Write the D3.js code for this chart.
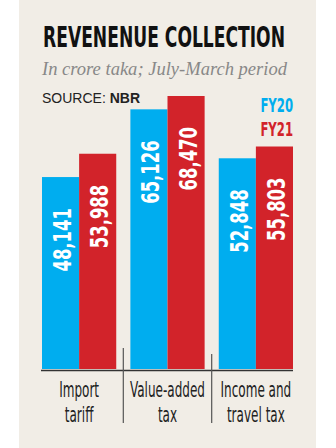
<!DOCTYPE html>
<html><head><meta charset="utf-8">
<script src="https://cdn.jsdelivr.net/npm/d3@7"></script>
<style>html,body{margin:0;padding:0;background:#fff}</style>
</head><body>
<script>
const categories = [["Import","tariff"],["Value-added","tax"],["Income and","travel tax"]];
const seriesNames = ["FY20","FY21"];
const fy20 = [48141, 65126, 52848];
const fy21 = [53988, 68470, 55803];
const colors = ["#00adef", "#d2232a"];

const W = 336, H = 448;
const svg = d3.select("body").append("svg").attr("width", W).attr("height", H);
svg.append("rect").attr("x", 19).attr("y", 0).attr("width", 297).attr("height", H).attr("fill", "#f1ede6");

const cond = "'Liberation Sans Narrow','DejaVu Sans Condensed','DejaVu Sans',sans-serif";

// condense a text so that a sample string in the same style would measure `target` px
function condense(sel, sample, target) {
  const probe = svg.append("text").text(sample);
  ["font-family","font-weight","font-size","font-style"].forEach(a => probe.attr(a, sel.attr(a)));
  const k = target / probe.node().getComputedTextLength();
  probe.remove();
  const L = sel.node().getComputedTextLength();
  sel.attr("textLength", L * k).attr("lengthAdjust", "spacingAndGlyphs");
  return sel;
}

const title = svg.append("text").attr("x", 43).attr("y", 47).text("REVENENUE COLLECTION")
  .attr("font-family", cond).attr("font-weight", "bold").attr("font-size", 29).attr("fill", "#111");
condense(title, "REVENENUE COLLECTION", 242);

const sub = svg.append("text").attr("x", 42).attr("y", 75).text("In crore taka; July-March period")
  .attr("font-family", "'Liberation Serif',serif").attr("font-style", "italic").attr("font-size", 18)
  .attr("fill", "#888");
condense(sub, "In crore taka; July-March period", 245);

const src = svg.append("text").attr("x", 42).attr("y", 102.5)
  .attr("font-family", "'Liberation Sans',Arial,sans-serif").attr("font-size", 14).attr("fill", "#222");
src.append("tspan").text("SOURCE: ");
src.append("tspan").attr("font-weight", "bold").text("NBR");

// legend
seriesNames.forEach((n, i) => {
  const t = svg.append("text").attr("x", 293).attr("y", 111.5 + i * 24).attr("text-anchor", "end")
    .attr("font-family", cond).attr("font-weight", "bold").attr("font-size", 20)
    .attr("fill", colors[i]).text(n);
  condense(t, "FY20", 32.6);
});

const x0 = d3.scaleBand().domain(d3.range(categories.length)).range([42, 293]).paddingInner(0.16).paddingOuter(0);
const x1 = d3.scaleBand().domain(d3.range(seriesNames.length)).range([0, x0.bandwidth()]);
const y = d3.scaleLinear().domain([0, 68470]).range([369, 96]);

const series = [fy20, fy21];
const g = svg.append("g");
categories.forEach((c, ci) => {
  series.forEach((vals, si) => {
    const v = vals[ci];
    const bx = x0(ci) + x1(si);
    g.append("rect").attr("x", bx).attr("y", y(v)).attr("width", x1.bandwidth()).attr("height", y(0) - y(v))
      .attr("fill", colors[si]);
    const cx = bx + x1.bandwidth() / 2 + 1.5;
    const t = g.append("text").attr("transform", `translate(${cx},${y(v) + 31}) rotate(-90)`)
      .attr("text-anchor", "end").attr("dy", "0.36em")
      .attr("font-family", cond).attr("font-weight", "bold").attr("font-size", 25)
      .attr("fill", "#fff").text(d3.format(",")(v));
    condense(t, "48,141", 63.5);
  });
});

// axis baseline
svg.append("line").attr("x1", 41).attr("x2", 293).attr("y1", 370.5).attr("y2", 370.5)
  .attr("stroke", "#333").attr("stroke-width", 1.4);

// dividers
const divTops = [348, 354];
for (let i = 1; i < categories.length; i++) {
  const dx = (x0(i - 1) + x0.bandwidth() + x0(i)) / 2;
  svg.append("line").attr("x1", dx).attr("x2", dx).attr("y1", divTops[i - 1]).attr("y2", 423)
    .attr("stroke", "#555").attr("stroke-width", 1.2);
}

// category labels
categories.forEach((c, ci) => {
  const cx = x0(ci) + x0.bandwidth() / 2;
  c.forEach((line, li) => {
    const t = svg.append("text").attr("x", cx).attr("y", 397 + li * 24.5).attr("text-anchor", "middle")
      .attr("font-family", cond).attr("font-size", 21).attr("fill", "#222").text(line);
    condense(t, "Value-added", 75);
  });
});
</script>
</body></html>
